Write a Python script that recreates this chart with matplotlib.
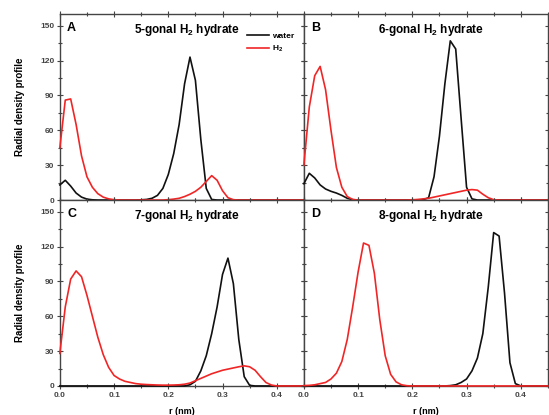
import numpy as np
import matplotlib
matplotlib.use('Agg')
import matplotlib.pyplot as plt
from matplotlib.ticker import MultipleLocator
from matplotlib.lines import Line2D

plt.rcParams['font.family'] = ['Liberation Sans', 'DejaVu Sans']
plt.rcParams['font.weight'] = 'bold'
plt.rcParams['mathtext.fontset'] = 'custom'
plt.rcParams['mathtext.rm'] = 'Liberation Sans:bold'
plt.rcParams['mathtext.default'] = 'rm'

# radial distance grid (nm)
r = np.round(np.arange(0, 0.451, 0.01), 2)

# 5-gonal
water_a = [13, 17, 12, 6, 2.5, 0.8, 0.2,
           0, 0, 0, 0, 0, 0, 0, 0,
           0.2, 0.5, 1.5, 4, 10, 22, 40, 65, 100, 123, 103, 52, 10, 0.5,
           0, 0, 0, 0, 0, 0, 0, 0, 0, 0, 0, 0, 0, 0, 0, 0, 0]
h2_a = [45, 86, 87, 65, 38, 20, 11, 5.5, 2.5, 1, 0.3,
        0, 0, 0, 0, 0, 0, 0, 0, 0,
        0.3, 0.8, 1.5, 3, 5, 7.5, 11, 16, 21, 17, 8, 2, 0.3,
        0, 0, 0, 0, 0, 0, 0, 0, 0, 0, 0, 0, 0]

# 6-gonal
water_b = [14, 23, 19, 13, 9.5, 7.5, 6, 4, 1.5, 0.3,
           0, 0, 0, 0, 0, 0, 0, 0, 0, 0, 0, 0,
           0.3, 2, 20, 55, 100, 137, 130, 70, 11, 1,
           0, 0, 0, 0, 0, 0, 0, 0, 0, 0, 0, 0, 0, 0]
h2_b = [30, 80, 107, 115, 95, 60, 28, 11, 3, 0.5,
        0, 0, 0, 0, 0, 0, 0, 0, 0, 0,
        0.2, 0.5, 1, 1.5, 2.5, 3.5, 4.5, 5.5, 6.5, 7.5, 8.5, 9, 8.5, 5, 2, 0.3,
        0, 0, 0, 0, 0, 0, 0, 0, 0, 0]

# 7-gonal
water_c = [0] * 24 + [1, 4, 13, 26, 45, 68, 96, 110, 88, 40, 8, 0.5] + [0] * 10
h2_c = [28, 68, 92, 99, 94, 78, 60, 42, 27, 16, 9, 6, 4, 3, 2, 1.5, 1.2, 1, 0.8, 0.7,
        0.7, 0.8, 1, 1.5, 2.5, 4.5, 6.5, 8.5, 10.5, 12, 13.5, 14.5, 15.5, 16.5, 17.3,
        16.5, 13.5, 8, 3, 0.8,
        0, 0, 0, 0, 0, 0]

# 8-gonal
water_d = [0] * 27 + [0.3, 1, 3, 6, 13, 24, 45, 85, 132, 129, 80, 20, 2] + [0] * 6
h2_d = [0.3, 0.5, 1, 2, 3, 6, 11, 21, 40, 68, 98, 123, 121, 97, 57, 26, 10, 3.5, 1, 0.2] + [0] * 26

panels = [
    ('A', '5-gonal H$_2$ hydrate', water_a, h2_a),
    ('B', '6-gonal H$_2$ hydrate', water_b, h2_b),
    ('C', '7-gonal H$_2$ hydrate', water_c, h2_c),
    ('D', '8-gonal H$_2$ hydrate', water_d, h2_d),
]

black = '#111111'
red = '#f02626'
axis_col = '#444444'

fig, axes = plt.subplots(2, 2, figsize=(5.49, 4.15), dpi=100)
fig.subplots_adjust(left=0.109, right=0.998, top=0.966, bottom=0.07,
                    wspace=0, hspace=0)

for ax, (letter, title, water, h2) in zip(axes.flat, panels):
    ax.plot(r, water, color=black, lw=1.2, zorder=3, clip_on=False)
    ax.plot(r, h2, color=red, lw=1.2, zorder=4, clip_on=False)
    ax.set_xlim(0, 0.45)
    ax.set_ylim(0, 160)
    ax.xaxis.set_major_locator(MultipleLocator(0.1))
    ax.xaxis.set_minor_locator(MultipleLocator(0.05))
    ax.yaxis.set_major_locator(MultipleLocator(30))
    ax.yaxis.set_minor_locator(MultipleLocator(15))
    ax.tick_params(which='both', direction='inout', top=True, right=True,
                   colors=axis_col, labelsize=6, width=0.8)
    ax.tick_params(which='major', length=4, pad=2)
    ax.tick_params(which='minor', length=2.5)
    for s in ax.spines.values():
        s.set_color(axis_col)
        s.set_linewidth(1.0)
    ax.text(0.03, 0.955, letter, transform=ax.transAxes, fontsize=9,
            fontweight='bold', va='top', ha='left')
    ax.text(0.52, 0.955, title, transform=ax.transAxes, fontsize=8.5,
            fontweight='bold', va='top', ha='center')

for ax in axes[0]:
    ax.tick_params(labelbottom=False)
for ax in axes[:, 1]:
    ax.tick_params(labelleft=False)
for ax in axes[:, 0]:
    ax.set_ylabel('Radial density profile', fontsize=7, fontweight='bold',
                  labelpad=11)
    ax.yaxis.set_major_formatter(matplotlib.ticker.FormatStrFormatter('%d'))
for ax in axes[1]:
    ax.set_xlabel('r (nm)', fontsize=6.5, fontweight='bold', labelpad=6)
    ax.xaxis.set_major_formatter(matplotlib.ticker.FormatStrFormatter('%.1f'))

handles = [Line2D([], [], color=black, lw=1.2), Line2D([], [], color=red, lw=1.2)]
fig.legend(handles, ['water', 'H$_2$'], loc='upper left',
           bbox_to_anchor=(0.436, 0.94), frameon=False, fontsize=6,
           handlelength=2.6, handletextpad=0.4, labelspacing=0.4)

fig.savefig('out.png', dpi=100)
